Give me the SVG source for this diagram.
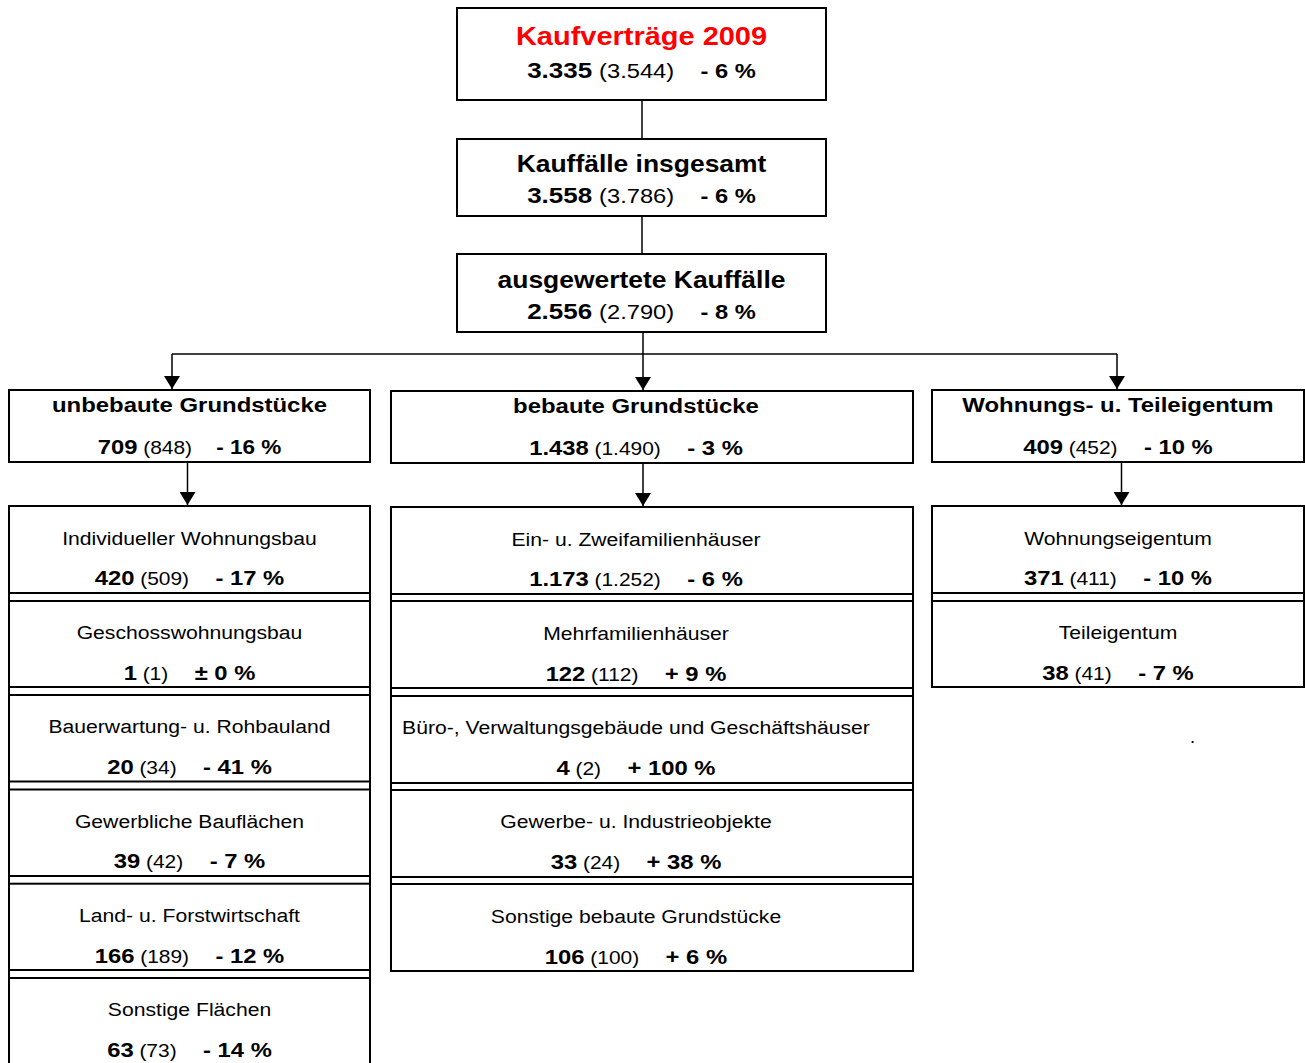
<svg xmlns="http://www.w3.org/2000/svg" width="1305" height="1063" viewBox="0 0 1305 1063">
<defs>
<style>
.box{fill:#fff;stroke:#000;stroke-width:2}
.frame{stroke:#000;stroke-width:2;fill:none}
.conn{stroke:#000;stroke-width:1.5;fill:none}
.t{font-family:"Liberation Sans",Arial,Helvetica,sans-serif;text-anchor:middle;fill:#000}
.title{font-size:25.2px;font-weight:bold;fill:#ff0000}
.h1{font-size:23px;font-weight:bold}
.n1{font-size:22.6px;font-weight:bold}
.p1{font-size:20.6px;font-weight:normal}
.q1{font-size:20.6px;font-weight:bold}
.h2{font-size:20.8px;font-weight:bold}
.n2{font-size:20.7px;font-weight:bold}
.p2{font-size:18.2px;font-weight:normal}
.lbl{font-size:18.4px;font-weight:normal}
</style>
<marker id="arr" markerUnits="userSpaceOnUse" markerWidth="14" markerHeight="16" refX="13" refY="8" orient="auto" viewBox="0 0 14 16">
<path d="M0,0 L13,8 L0,16 z" fill="#000"/>
</marker>
</defs>
<rect x="0" y="0" width="1305" height="1063" fill="#fff"/>

<g id="connectors">
<line class="conn" x1="642" y1="100" x2="642" y2="139"/>
<line class="conn" x1="642" y1="216" x2="642" y2="254"/>
<line class="conn" x1="643" y1="332" x2="643" y2="354"/>
<polyline class="conn" points="172,354 1117,354"/>
<line class="conn" x1="172" y1="354" x2="172" y2="389" marker-end="url(#arr)"/>
<line class="conn" x1="643" y1="354" x2="643" y2="390" marker-end="url(#arr)"/>
<line class="conn" x1="1117" y1="354" x2="1117" y2="389" marker-end="url(#arr)"/>
<line class="conn" x1="187.5" y1="462" x2="187.5" y2="505" marker-end="url(#arr)"/>
<line class="conn" x1="643" y1="463" x2="643" y2="506" marker-end="url(#arr)"/>
<line class="conn" x1="1121.5" y1="462" x2="1121.5" y2="505" marker-end="url(#arr)"/>
</g>

<g id="n-kaufvertraege">
<rect class="box" x="457" y="8" width="369" height="92"/>
<g transform="translate(641.5 0) scale(1.15 1)">
<text class="t title" x="0" y="45">Kaufverträge 2009</text>
<text class="t" x="0" y="78"><tspan class="n1">3.335</tspan><tspan class="p1" dx="6">(3.544)</tspan><tspan class="q1" dx="23">- 6 %</tspan></text>
</g>
</g>

<g id="n-kauffaelle">
<rect class="box" x="457" y="139" width="369" height="77"/>
<g transform="translate(641.5 0) scale(1.15 1)">
<text class="t h1" x="0" y="172.5">Kauffälle insgesamt</text>
<text class="t" x="0" y="203.5"><tspan class="n1">3.558</tspan><tspan class="p1" dx="6">(3.786)</tspan><tspan class="q1" dx="23">- 6 %</tspan></text>
</g>
</g>

<g id="n-ausgewertet">
<rect class="box" x="457" y="254" width="369" height="78"/>
<g transform="translate(641.5 0) scale(1.15 1)">
<text class="t h1" x="0" y="288">ausgewertete Kauffälle</text>
<text class="t" x="0" y="319"><tspan class="n1">2.556</tspan><tspan class="p1" dx="6">(2.790)</tspan><tspan class="q1" dx="23">- 8 %</tspan></text>
</g>
</g>

<g id="n-unbebaut">
<rect class="box" x="9" y="390" width="361" height="72"/>
<g transform="translate(189.5 0) scale(1.15 1)">
<text class="t h2" x="0" y="412">unbebaute Grundstücke</text>
<text class="t" x="0" y="454"><tspan class="n2">709</tspan><tspan class="p2" dx="5">(848)</tspan><tspan class="n2" dx="21" style="font-size:19.6px">- 16 %</tspan></text>
</g>
</g>

<g id="n-bebaut">
<rect class="box" x="391" y="391" width="522" height="72"/>
<g transform="translate(636 0) scale(1.15 1)">
<text class="t h2" x="0" y="413">bebaute Grundstücke</text>
<text class="t" x="0" y="455"><tspan class="n2">1.438</tspan><tspan class="p2" dx="5">(1.490)</tspan><tspan class="n2" dx="23">- 3 %</tspan></text>
</g>
</g>

<g id="n-wohnungs-teileigentum">
<rect class="box" x="932" y="390" width="372" height="72"/>
<g transform="translate(1118 0) scale(1.15 1)">
<text class="t h2" x="0" y="412">Wohnungs- u. Teileigentum</text>
<text class="t" x="0" y="454"><tspan class="n2">409</tspan><tspan class="p2" dx="5">(452)</tspan><tspan class="n2" dx="23">- 10 %</tspan></text>
</g>
</g>

<g id="column-frames">
<line class="frame" x1="9" y1="506" x2="9" y2="1070"/>
<line class="frame" x1="370" y1="506" x2="370" y2="1070"/>
<line class="frame" x1="391" y1="507" x2="391" y2="971"/>
<line class="frame" x1="913" y1="507" x2="913" y2="971"/>
<line class="frame" x1="932" y1="506" x2="932" y2="687"/>
<line class="frame" x1="1304" y1="506" x2="1304" y2="687"/>
</g>

<g id="n-individueller">
<rect class="box" x="9" y="506" width="361" height="87"/>
<g transform="translate(189.5 0) scale(1.15 1)">
<text class="t lbl" x="0" y="545">Individueller Wohnungsbau</text>
<text class="t" x="0" y="585.5"><tspan class="n2">420</tspan><tspan class="p2" dx="5">(509)</tspan><tspan class="n2" dx="23">- 17 %</tspan></text>
</g>
</g>
<g id="n-geschoss">
<rect class="box" x="9" y="601" width="361" height="86"/>
<g transform="translate(189.5 0) scale(1.15 1)">
<text class="t lbl" x="0" y="639.2">Geschosswohnungsbau</text>
<text class="t" x="0" y="680.2"><tspan class="n2">1</tspan><tspan class="p2" dx="5">(1)</tspan><tspan class="n2" dx="23">± 0 %</tspan></text>
</g>
</g>
<g id="n-bauerwartung">
<rect class="box" x="9" y="695" width="361" height="86.5"/>
<g transform="translate(189.5 0) scale(1.15 1)">
<text class="t lbl" x="0" y="733.4">Bauerwartung- u. Rohbauland</text>
<text class="t" x="0" y="774.4"><tspan class="n2">20</tspan><tspan class="p2" dx="5">(34)</tspan><tspan class="n2" dx="23">- 41 %</tspan></text>
</g>
</g>
<g id="n-gewerbliche">
<rect class="box" x="9" y="789.5" width="361" height="86.5"/>
<g transform="translate(189.5 0) scale(1.15 1)">
<text class="t lbl" x="0" y="827.6">Gewerbliche Bauflächen</text>
<text class="t" x="0" y="868.2"><tspan class="n2">39</tspan><tspan class="p2" dx="5">(42)</tspan><tspan class="n2" dx="23">- 7 %</tspan></text>
</g>
</g>
<g id="n-land-forst">
<rect class="box" x="9" y="883.7" width="361" height="86.3"/>
<g transform="translate(189.5 0) scale(1.15 1)">
<text class="t lbl" x="0" y="922">Land- u. Forstwirtschaft</text>
<text class="t" x="0" y="962.6"><tspan class="n2">166</tspan><tspan class="p2" dx="5">(189)</tspan><tspan class="n2" dx="23">- 12 %</tspan></text>
</g>
</g>
<g id="n-sonstige-flaechen">
<rect class="box" x="9" y="978" width="361" height="95"/>
<g transform="translate(189.5 0) scale(1.15 1)">
<text class="t lbl" x="0" y="1016">Sonstige Flächen</text>
<text class="t" x="0" y="1057"><tspan class="n2">63</tspan><tspan class="p2" dx="5">(73)</tspan><tspan class="n2" dx="23">- 14 %</tspan></text>
</g>
</g>

<g id="n-ein-zweifamilien">
<rect class="box" x="391" y="507" width="522" height="87"/>
<g transform="translate(636 0) scale(1.15 1)">
<text class="t lbl" x="0" y="546">Ein- u. Zweifamilienhäuser</text>
<text class="t" x="0" y="586.5"><tspan class="n2">1.173</tspan><tspan class="p2" dx="5">(1.252)</tspan><tspan class="n2" dx="23">- 6 %</tspan></text>
</g>
</g>
<g id="n-mehrfamilien">
<rect class="box" x="391" y="601" width="522" height="87"/>
<g transform="translate(636 0) scale(1.15 1)">
<text class="t lbl" x="0" y="640">Mehrfamilienhäuser</text>
<text class="t" x="0" y="681"><tspan class="n2">122</tspan><tspan class="p2" dx="5">(112)</tspan><tspan class="n2" dx="23">+ 9 %</tspan></text>
</g>
</g>
<g id="n-buero">
<rect class="box" x="391" y="696" width="522" height="87"/>
<g transform="translate(636 0) scale(1.15 1)">
<text class="t lbl" x="0" y="734">Büro-, Verwaltungsgebäude und Geschäftshäuser</text>
<text class="t" x="0" y="775.5"><tspan class="n2">4</tspan><tspan class="p2" dx="5">(2)</tspan><tspan class="n2" dx="23">+ 100 %</tspan></text>
</g>
</g>
<g id="n-gewerbe-industrie">
<rect class="box" x="391" y="790" width="522" height="87"/>
<g transform="translate(636 0) scale(1.15 1)">
<text class="t lbl" x="0" y="828.5">Gewerbe- u. Industrieobjekte</text>
<text class="t" x="0" y="869.5"><tspan class="n2">33</tspan><tspan class="p2" dx="5">(24)</tspan><tspan class="n2" dx="23">+ 38 %</tspan></text>
</g>
</g>
<g id="n-sonstige-bebaute">
<rect class="box" x="391" y="884" width="522" height="87"/>
<g transform="translate(636 0) scale(1.15 1)">
<text class="t lbl" x="0" y="923">Sonstige bebaute Grundstücke</text>
<text class="t" x="0" y="964"><tspan class="n2">106</tspan><tspan class="p2" dx="5">(100)</tspan><tspan class="n2" dx="23">+ 6 %</tspan></text>
</g>
</g>

<g id="n-wohnungseigentum">
<rect class="box" x="932" y="506" width="372" height="87"/>
<g transform="translate(1118 0) scale(1.15 1)">
<text class="t lbl" x="0" y="545.5">Wohnungseigentum</text>
<text class="t" x="0" y="585.5"><tspan class="n2">371</tspan><tspan class="p2" dx="5">(411)</tspan><tspan class="n2" dx="23">- 10 %</tspan></text>
</g>
</g>
<g id="n-teileigentum">
<rect class="box" x="932" y="601" width="372" height="86"/>
<g transform="translate(1118 0) scale(1.15 1)">
<text class="t lbl" x="0" y="639.5">Teileigentum</text>
<text class="t" x="0" y="680.5"><tspan class="n2">38</tspan><tspan class="p2" dx="5">(41)</tspan><tspan class="n2" dx="23">- 7 %</tspan></text>
</g>
</g>

<text class="t lbl" x="1192.5" y="742.5">.</text>
</svg>
